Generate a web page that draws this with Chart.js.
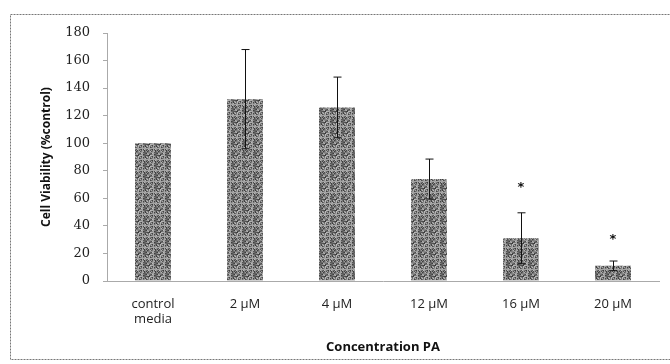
<!DOCTYPE html>
<html>
<head>
<meta charset="utf-8">
<script src="https://cdn.jsdelivr.net/npm/chart.js@4.4.1/dist/chart.umd.min.js"></script>
<style>
  html,body{margin:0;padding:0;background:#fff;}
  #wrap{width:670px;height:364px;}
</style>
</head>
<body>
<div id="wrap"><canvas id="viability" width="670" height="364"></canvas></div>
<script>
const categories = [['control', 'media'], '2 \u00b5M', '4 \u00b5M', '12 \u00b5M', '16 \u00b5M', '20 \u00b5M'];
const viability = [100, 132, 126, 74, 31, 11];
const errors = [0, 36, 22, 14.5, 18.5, 3.5];
const starAt = [null, null, null, null, 70, 32];
const yTicks = [0, 20, 40, 60, 80, 100, 120, 140, 160, 180];

// grainy grey fill like the scanned bars
function grainPattern(){
  const c = document.createElement('canvas');
  c.width = 11; c.height = 11;
  const g = c.getContext('2d');
  for(let y=0;y<11;y++){
    for(let x=0;x<11;x++){
      const v = 60 + ((x*37 + y*91 + x*y*13) % 17) * 8;
      g.fillStyle = 'rgb('+v+','+v+','+v+')';
      g.fillRect(x,y,1,1);
    }
  }
  return g.createPattern(c,'repeat');
}

const extras = {
  id: 'extras',
  beforeDraw(chart){
    const ctx = chart.ctx;
    ctx.save();
    ctx.strokeStyle = '#777';
    ctx.lineWidth = 1;
    ctx.setLineDash([2,1]);
    ctx.strokeRect(10.5, 14.5, 672, 345);
    ctx.restore();
  },
  afterDatasetsDraw(chart){
    const ctx = chart.ctx;
    const x = chart.scales.x, y = chart.scales.y;
    ctx.save();
    ctx.strokeStyle = '#111';
    ctx.lineWidth = 1;
    viability.forEach((v,i)=>{
      const e = errors[i];
      if(!e) return;
      const cx = Math.round(x.getPixelForValue(i)) + 0.5;
      const top = y.getPixelForValue(v + e);
      const bot = y.getPixelForValue(v - e);
      ctx.beginPath();
      ctx.moveTo(cx, top); ctx.lineTo(cx, bot);
      ctx.moveTo(cx-4, top); ctx.lineTo(cx+4, top);
      ctx.moveTo(cx-4, bot); ctx.lineTo(cx+4, bot);
      ctx.stroke();
    });
    ctx.fillStyle = '#111';
    ctx.font = 'bold 13px "DejaVu Sans"';
    ctx.textAlign = 'center';
    ctx.textBaseline = 'middle';
    starAt.forEach((s,i)=>{
      if(s==null) return;
      ctx.fillText('*', x.getPixelForValue(i), y.getPixelForValue(s) + 3);
    });
    ctx.restore();
  }
};

new Chart(document.getElementById('viability'), {
  type: 'bar',
  data: {
    labels: categories,
    datasets: [{
      data: viability,
      backgroundColor: grainPattern(),
      borderWidth: 0,
      barPercentage: 0.39,
      categoryPercentage: 1
    }]
  },
  options: {
    responsive: false,
    animation: false,
    layout: {padding: {left: 10, top: 33, right: 11, bottom: 0}},
    plugins: {legend: {display: false}, tooltip: {enabled: false}},
    scales: {
      x: {
        afterFit: s => { s.height = 83; },
        grid: {display: false},
        border: {display: true, color: '#aaa', dash: [2,3]},
        ticks: {
          padding: 7,
          color: '#222',
          font: {family: '"Open Sans"', size: 13},
          maxRotation: 0
        },
        title: {
          display: true,
          text: 'Concentration PA',
          color: '#111',
          font: {family: '"Open Sans"', size: 13, weight: 'bold'},
          padding: {top: 4, bottom: 9}
        }
      },
      y: {
        min: 0,
        max: 180,
        afterFit: s => { s.width = 97; },
        afterBuildTicks: s => { s.ticks = yTicks.map(v => ({value: v})); },
        grid: {drawOnChartArea: false, tickLength: 4, color: '#aaa'},
        border: {display: true, color: '#aaa', dash: [2,3]},
        ticks: {
          padding: 13,
          color: '#222',
          font: {family: '"DejaVu Serif"', size: 13}
        },
        title: {
          display: true,
          text: 'Cell Viability (%control)',
          color: '#111',
          font: {family: '"Open Sans"', size: 12, weight: 'bold'},
          padding: {top: 29, bottom: 0}
        }
      }
    }
  },
  plugins: [extras]
});
</script>
</body>
</html>
